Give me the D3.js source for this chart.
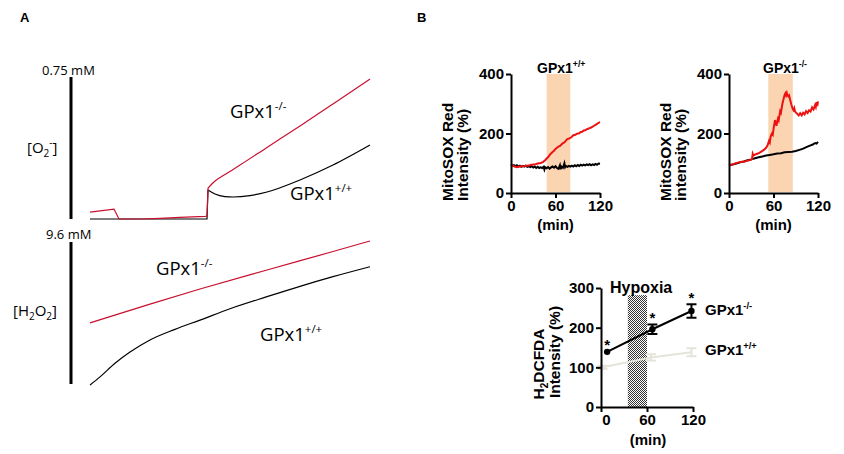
<!DOCTYPE html>
<html><head><meta charset="utf-8">
<script src="https://cdn.jsdelivr.net/npm/d3@7"></script>
<style>body{margin:0;background:#fff}svg{display:block}</style>
</head><body><svg id="c" width="844" height="454"></svg>
<script>
// ---------- Panel A data (arbitrary time units, level 0-100 of scale bar) ----------
const o2KO = [[0,4.9],[24,7.0],[29,0],[50,0],[70,0.4],[90,1.1],[115,1.8],[117,2.1],[118,21.8],[125,26.8],[135,31.3],[150,38.0],[177,50.4],[210,65.5],[243,81.0],[280,98.6]];
const o2WT = [[0,0],[117,0],[118,20.4],[125,17.6],[135,15.8],[143,15.5],[160,16.5],[177,19],[210,27.5],[243,38],[280,52.1]];
const h2o2KO = [[0,43],[60,56.3],[110,66.9],[177,80.3],[243,93.3],[280,100.7]];
const h2o2WT = [[0,-0.7],[10,5],[25,14.6],[40,22.5],[60,31],[85,38.5],[110,45],[140,53],[177,61.5],[210,68.8],[243,75.6],[280,82.6]];
const scaleTopLabels = ["0.75 mM","9.6 mM"];

// ---------- Panel B MitoSOX data ----------
const mitoTicksY = [0,200,400];
const timeTicks = [0,60,120];
const hypoxiaWT = [48,80];
const hypoxiaKO = [53,86];
const mitoRedWT = [[0,97],[2,92],[4,90],[6,88],[8,87],[10,88],[12,89],[15,90],[18,91],[20,92],[22,92],[25,93],[28,95],[30,96],[33,97],[36,99],[40,101],[43,104],[46,110],[48,116],[50,120],[52,127],[54,133],[56,138],[58,142],[60,148],[62,152],[64,156],[66,158],[68,163],[70,168],[72,170],[74,176],[76,181],[78,183],[80,185],[82,189],[84,194],[86,195],[88,198],[90,200],[92,201],[94,205],[96,206],[98,210],[100,211],[102,214],[104,216],[106,218],[108,220],[110,223],[112,226],[114,229],[116,232],[118,236],[120,238]];
const mitoBlackWT = [[0,95],[2,92],[4,94],[6,90],[8,93],[10,89],[12,92],[14,88],[16,91],[18,89],[20,92],[22,88],[24,90],[26,87],[28,90],[30,86],[32,89],[34,84],[36,88],[38,84],[40,86],[42,84],[44,88],[45,79],[46,87],[48,83],[50,87],[52,82],[54,86],[56,89],[58,85],[60,90],[62,84],[64,81],[66,93],[67,80],[68,89],[70,85],[72,100],[73,87],[74,91],[76,88],[78,91],[80,89],[82,92],[84,89],[86,93],[88,90],[90,94],[92,91],[94,95],[96,92],[98,95],[100,93],[102,96],[104,94],[106,97],[108,93],[110,96],[112,94],[114,98],[116,95],[118,99],[120,98]];
const mitoRedKO = [[0,92],[3,94],[6,97],[9,100],[12,102],[15,104],[18,105],[21,106],[24,108],[27,110],[30,112],[31,114],[32,132],[33,126],[35,129],[38,132],[41,135],[44,140],[47,145],[50,152],[52,160],[54,175],[55,170],[56,188],[57,195],[58,200],[59,196],[60,215],[61,230],[62,245],[63,236],[64,226],[65,240],[66,250],[67,244],[68,260],[69,275],[70,270],[71,285],[72,300],[73,310],[74,320],[75,330],[76,335],[77,328],[78,336],[79,327],[80,325],[81,328],[82,318],[83,308],[84,298],[85,290],[86,282],[87,278],[88,285],[89,274],[90,271],[92,266],[94,261],[96,268],[98,261],[100,270],[102,264],[104,275],[106,269],[108,278],[110,274],[112,288],[114,281],[116,295],[117,289],[118,305],[119,292],[120,308]];
const mitoBlackKO = [[0,93],[5,96],[10,99],[15,103],[20,106],[25,110],[30,113],[35,117],[40,120],[45,123],[50,126],[55,128],[60,130],[65,133],[70,134],[75,137],[80,138],[85,139],[90,141],[95,145],[100,149],[105,155],[110,160],[113,163],[116,168],[118,166],[120,172]];

// ---------- Panel B H2DCFDA data ----------
const dcfTicksY = [0,100,200,300];
const hypoxiaDCF = [35,60];
const dcfTime = [8,67,118];
const dcfKO = [139,196,242];
const dcfKOerr = [3,12,17];
const wtTime = [2,65,118];
const dcfWT = [100,125,138];
const dcfWTerr = [4,8,10];

const svg = d3.select("#c");
const SANS = "'Open Sans', sans-serif";
const ARIAL = "'Liberation Sans', Arial, sans-serif";

function supLabel(g, x, y, base, sup, size, font, weight) {
  const t = g.append("text").attr("x", x).attr("y", y)
    .attr("font-family", font).attr("font-size", size).attr("font-weight", weight||"normal").attr("fill","#000");
  t.append("tspan").text(base);
  t.append("tspan").attr("font-size", size*0.62).attr("dy", -size*0.42).text(sup);
  return t;
}

// ---------- Panel letters ----------
svg.append("text").attr("x",20).attr("y",22).attr("font-family",ARIAL).attr("font-weight","bold").attr("font-size",13).text("A");
svg.append("text").attr("x",417).attr("y",22).attr("font-family",ARIAL).attr("font-weight","bold").attr("font-size",13).text("B");

// ---------- Panel A ----------
const ax = d3.scaleLinear().domain([0,280]).range([90,370]);
const ayTop = d3.scaleLinear().domain([0,100]).range([219,77]);
const ayBot = d3.scaleLinear().domain([0,100]).range([384,242]);
const gA = svg.append("g");
gA.append("line").attr("x1",71).attr("x2",71).attr("y1",ayTop(100)).attr("y2",ayTop(0)).attr("stroke","#000").attr("stroke-width",3);
gA.append("line").attr("x1",71).attr("x2",71).attr("y1",ayBot(100)).attr("y2",ayBot(0)).attr("stroke","#000").attr("stroke-width",3);
gA.append("text").attr("x",42).attr("y",75).attr("font-family",SANS).attr("font-size",13).text(scaleTopLabels[0]);
gA.append("text").attr("x",46).attr("y",239).attr("font-family",SANS).attr("font-size",13).text(scaleTopLabels[1]);
{
  const t = gA.append("text").attr("x",27).attr("y",153).attr("font-family",SANS).attr("font-size",15);
  t.append("tspan").text("[O");
  t.append("tspan").attr("font-size",10).attr("dy",4).text("2");
  t.append("tspan").attr("font-size",10).attr("dy",-11).attr("dx",0).text("-");
  t.append("tspan").attr("dy",7).text("]");
}
{
  const t = gA.append("text").attr("x",13).attr("y",316).attr("font-family",SANS).attr("font-size",15);
  t.append("tspan").text("[H");
  t.append("tspan").attr("font-size",10).attr("dy",4).text("2");
  t.append("tspan").attr("dy",-4).text("O");
  t.append("tspan").attr("font-size",10).attr("dy",4).text("2");
  t.append("tspan").attr("dy",-4).text("]");
}
const lineA = (ys) => d3.line().x(d=>ax(d[0])).y(d=>ys(d[1])).curve(d3.curveMonotoneX);
const lineALin = (ys) => d3.line().x(d=>ax(d[0])).y(d=>ys(d[1]));
gA.append("path").datum(o2WT.slice(0,3)).attr("d",lineALin(ayTop)).attr("fill","none").attr("stroke","#000").attr("stroke-width",1.2);
gA.append("path").datum(o2WT.slice(2)).attr("d",lineA(ayTop)).attr("fill","none").attr("stroke","#000").attr("stroke-width",1.2);
gA.append("path").datum(o2KO.slice(0,9)).attr("d",lineALin(ayTop)).attr("fill","none").attr("stroke","#c8102e").attr("stroke-width",1.2);
gA.append("path").datum(o2KO.slice(8)).attr("d",lineA(ayTop)).attr("fill","none").attr("stroke","#c8102e").attr("stroke-width",1.2);
gA.append("path").datum(h2o2KO).attr("d",lineA(ayBot)).attr("fill","none").attr("stroke","#c8102e").attr("stroke-width",1.2);
gA.append("path").datum(h2o2WT).attr("d",lineA(ayBot)).attr("fill","none").attr("stroke","#000").attr("stroke-width",1.2);
supLabel(gA,230,118,"GPx1","-/-",18.5,SANS);
supLabel(gA,290,200,"GPx1","+/+",18.5,SANS);
supLabel(gA,156,275,"GPx1","-/-",18.5,SANS);
supLabel(gA,260,341,"GPx1","+/+",18.5,SANS);

// ---------- Panel B MitoSOX charts ----------
function mitoChart(x0, x1, title, band, red, black, titleY2) {
  const g = svg.append("g");
  const x = d3.scaleLinear().domain([0,120]).range([x0,x1]);
  const y = d3.scaleLinear().domain([0,400]).range([193,74]);
  g.append("rect").attr("x",x(band[0])).attr("width",x(band[1])-x(band[0]))
    .attr("y",y(400)).attr("height",y(0)-y(400)-1).attr("fill","#fbd4b1");
  const ln = d3.line().x(d=>x(d[0])).y(d=>y(d[1]));
  g.append("path").datum(black).attr("d",ln).attr("fill","none").attr("stroke","#000").attr("stroke-width",2);
  g.append("path").datum(red).attr("d",ln).attr("fill","none").attr("stroke","#ee1111").attr("stroke-width",2);
  const ya = g.append("g").attr("transform",`translate(${x0},0)`)
    .call(d3.axisLeft(y).tickValues(mitoTicksY).tickSize(5).tickSizeOuter(0).tickPadding(2));
  const xa = g.append("g").attr("transform",`translate(0,${y(0)})`)
    .call(d3.axisBottom(x).tickValues(timeTicks).tickSize(5).tickSizeOuter(0).tickPadding(2));
  [ya,xa].forEach(a=>{
    a.selectAll("path,line").attr("stroke","#000").attr("stroke-width",2);
    a.selectAll("text").attr("font-family",ARIAL).attr("font-weight","bold").attr("font-size",15).attr("fill","#000");
  });
  g.append("text").attr("x",(x0+x1)/2).attr("y",230).attr("text-anchor","middle")
    .attr("font-family",ARIAL).attr("font-weight","bold").attr("font-size",15).text("(min)");
  supLabel(g, title[0], 73, "GPx1", title[1], 14, ARIAL, "bold");
  g.append("text").attr("transform",`translate(${x0-58},201) rotate(-90)`)
    .attr("font-family",ARIAL).attr("font-weight","bold").attr("font-size",15.5).text("MitoSOX Red");
  g.append("text").attr("transform",`translate(${x0-43},201) rotate(-90)`)
    .attr("font-family",ARIAL).attr("font-weight","bold").attr("font-size",15.5).text(titleY2);
}
mitoChart(511,600,[537,"+/+"],hypoxiaWT,mitoRedWT,mitoBlackWT,"Intensity (%)");
mitoChart(729,818,[763,"-/-"],hypoxiaKO,mitoRedKO,mitoBlackKO,"intensity (%)");

// ---------- Panel B H2DCFDA chart ----------
{
  const g = svg.append("g");
  const x = d3.scaleLinear().domain([0,120]).range([601,693]);
  const y = d3.scaleLinear().domain([0,300]).range([407,288]);
  const defs = svg.append("defs");
  const pat = defs.append("pattern").attr("id","chk").attr("width",2).attr("height",2).attr("patternUnits","userSpaceOnUse");
  pat.append("rect").attr("width",2).attr("height",2).attr("fill","#fff");
  pat.append("rect").attr("width",1).attr("height",1).attr("fill","#333");
  pat.append("rect").attr("x",1).attr("y",1).attr("width",1).attr("height",1).attr("fill","#333");
  g.append("rect").attr("x",x(hypoxiaDCF[0])).attr("width",x(hypoxiaDCF[1])-x(hypoxiaDCF[0]))
    .attr("y",y(282)).attr("height",y(0)-y(282)).attr("fill","url(#chk)");
  g.append("text").attr("x",610).attr("y",293).attr("font-family",ARIAL).attr("font-weight","bold").attr("font-size",16).text("Hypoxia");
  const wt = wtTime.map((t,i)=>[t,dcfWT[i],dcfWTerr[i]]);
  const ko = dcfTime.map((t,i)=>[t,dcfKO[i],dcfKOerr[i]]);
  const ln = d3.line().x(d=>x(d[0])).y(d=>y(d[1]));
  const wtCol = "#e4e4da";
  g.append("path").datum(wt).attr("d",ln).attr("fill","none").attr("stroke",wtCol).attr("stroke-width",2);
  wt.forEach(d=>{
    const cx = x(d[0]);
    g.append("line").attr("x1",cx).attr("x2",cx).attr("y1",y(d[1]+d[2])).attr("y2",y(d[1]-d[2])).attr("stroke",wtCol).attr("stroke-width",2);
    [d[1]+d[2],d[1]-d[2]].forEach(v=>g.append("line").attr("x1",cx-5).attr("x2",cx+5).attr("y1",y(v)).attr("y2",y(v)).attr("stroke",wtCol).attr("stroke-width",2));
  });
  g.append("path").datum(ko).attr("d",ln).attr("fill","none").attr("stroke","#000").attr("stroke-width",2);
  ko.forEach(d=>{
    const cx = x(d[0]);
    g.append("circle").attr("cx",cx).attr("cy",y(d[1])).attr("r",3.2).attr("fill","#000");
    if (d[2] > 4) {
      g.append("line").attr("x1",cx).attr("x2",cx).attr("y1",y(d[1]+d[2])).attr("y2",y(d[1]-d[2])).attr("stroke","#000").attr("stroke-width",2);
      [d[1]+d[2],d[1]-d[2]].forEach(v=>g.append("line").attr("x1",cx-5).attr("x2",cx+5).attr("y1",y(v)).attr("y2",y(v)).attr("stroke","#000").attr("stroke-width",2));
    }
    g.append("text").attr("x",cx).attr("y",y(d[1]+d[2])-1).attr("text-anchor","middle")
      .attr("font-family",ARIAL).attr("font-weight","bold").attr("font-size",15).text("*");
  });
  const ya = g.append("g").attr("transform","translate(601,0)")
    .call(d3.axisLeft(y).tickValues(dcfTicksY).tickSize(5).tickSizeOuter(0).tickPadding(2));
  const xa = g.append("g").attr("transform",`translate(0,${y(0)})`)
    .call(d3.axisBottom(x).tickValues(timeTicks).tickSize(5).tickSizeOuter(0).tickPadding(2));
  [ya,xa].forEach(a=>{
    a.selectAll("path,line").attr("stroke","#000").attr("stroke-width",2);
    a.selectAll("text").attr("font-family",ARIAL).attr("font-weight","bold").attr("font-size",15).attr("fill","#000");
  });
  xa.selectAll(".tick text").attr("dx", (d)=> d===0 ? 5 : 0);
  g.append("text").attr("x",648).attr("y",445).attr("text-anchor","middle")
    .attr("font-family",ARIAL).attr("font-weight","bold").attr("font-size",15).text("(min)");
  {
    const t = g.append("text").attr("transform","translate(544,364) rotate(-90)").attr("text-anchor","middle")
      .attr("font-family",ARIAL).attr("font-weight","bold").attr("font-size",15.5);
    t.append("tspan").text("H");
    t.append("tspan").attr("font-size",10).attr("dy",4).text("2");
    t.append("tspan").attr("dy",-4).text("DCFDA");
  }
  g.append("text").attr("transform","translate(560,352) rotate(-90)").attr("text-anchor","middle")
    .attr("font-family",ARIAL).attr("font-weight","bold").attr("font-size",15.5).text("Intensity (%)");
  supLabel(g,705,315,"GPx1","-/-",15,ARIAL,"bold");
  supLabel(g,705,355,"GPx1","+/+",15,ARIAL,"bold");
}
</script></body></html>
